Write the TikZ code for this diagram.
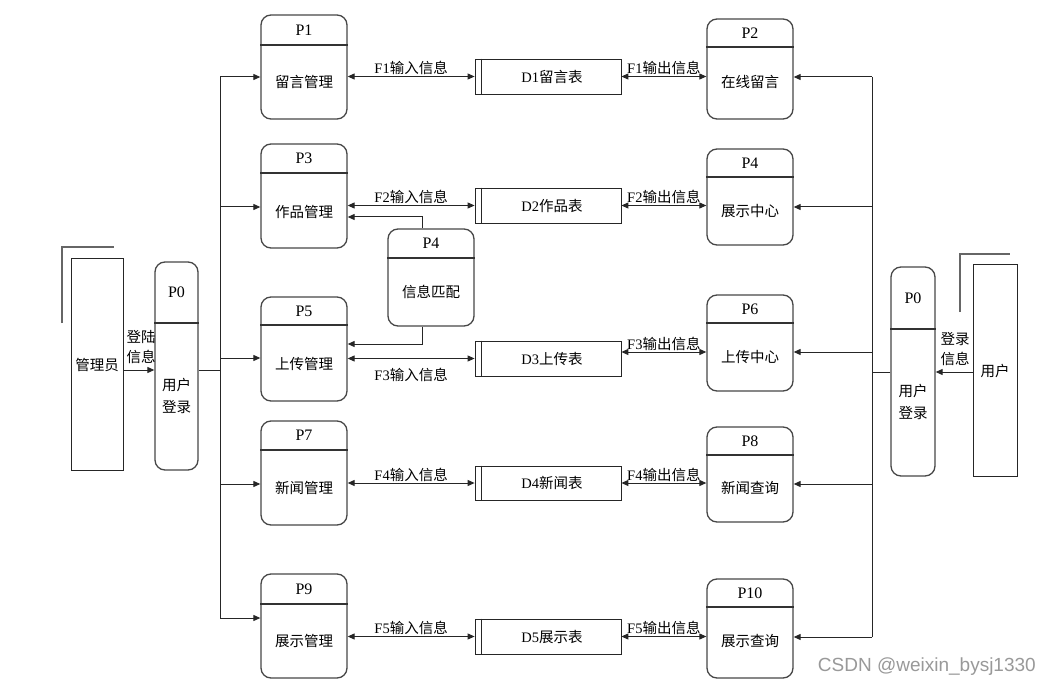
\documentclass[tikz,border=0pt]{standalone}
\usepackage{fontspec}
\setmainfont{Liberation Serif}
\newfontfamily\cjk{Noto Sans CJK SC}
\newfontfamily\wmfont{Liberation Sans}
\usetikzlibrary{arrows.meta,fit}
\newcommand\cj[1]{{\cjk #1}}
\tikzset{
  box/.style={draw=black!72, line width=1.3pt, rounded corners=10pt, inner sep=0pt},
  divider/.style={draw=black!80, line width=1.3pt},
  ent/.style={draw=black!85, line width=1pt, inner sep=0pt},
  corner/.style={draw=black!60, line width=1.4pt},
  store/.style={draw=black!85, line width=0.8pt, inner sep=0pt},
  conn/.style={draw=black!85, line width=1pt},
  arr/.style={conn, -{Triangle[length=7pt,width=6pt]}},
  darr/.style={conn, {Triangle[length=7pt,width=6pt]}-{Triangle[length=7pt,width=6pt]}},
  txt/.style={font=\fontsize{14.5}{22}\selectfont, inner sep=0pt, align=center},
  lbl/.style={font=\fontsize{14.5}{20}\selectfont, inner sep=0pt, align=center},
  ttl/.style={font=\fontsize{16}{17}\selectfont, inner sep=0pt},
}
% #1 name, #2 xl, #3 yt, #4 xr, #5 yb, #6 ydiv, #7 title, #8 body, #9 body y
\newcommand\proc[9]{%
  \node[box, fit={(#2,#3) (#4,#5)}] (#1) {};
  \draw[divider] (#1.west |- 0,#6) -- (#1.east |- 0,#6);
  \node[ttl] (#1t) at ({(#2+#4)/2},{(#3+#6)/2}) {#7};
  \node[txt] (#1b) at ({(#2+#4)/2},#9) {#8};
}
% #1 name, #2 yt, #3 yb, #4 text
\newcommand\dstore[4]{%
  \node[store, fit={(475,#2) (621,#3)}] (#1) {};
  \draw[store] ([xshift=7pt]#1.north west) -- ([xshift=7pt]#1.south west);
  \node[txt] (#1t) at ([xshift=4pt]#1.center) {#4};
}
\begin{document}
\begin{tikzpicture}[x=1pt,y=-1pt]
\useasboundingbox[fill=white] (0,0) rectangle (1050,687);

% entities
\draw[corner] (62,323) -- (62,247) -- (114,247);
\node[ent, fit={(71,259) (123,470)}] (adm) {};
\node[txt] (admt) at (adm.center) {\cj{管理员}};
\draw[corner] (960,312) -- (960,254) -- (1010,254);
\node[ent, fit={(973,265) (1017,476)}] (usr) {};
\node[txt] (usrt) at (usr.center) {\cj{用户}};

% login processes
\proc{p0l}{155}{262}{198}{470}{323}{P0}{\cj{用户}\\\cj{登录}}{396}
\proc{p0r}{891}{267}{935}{476}{329}{P0}{\cj{用户}\\\cj{登录}}{402}

% left processes
\proc{p1}{261}{15}{347}{119}{45}{P1}{\cj{留言管理}}{82}
\proc{p3}{261}{144}{347}{248}{173}{P3}{\cj{作品管理}}{212}
\proc{p5}{261}{297}{347}{401}{325}{P5}{\cj{上传管理}}{364}
\proc{p7}{261}{421}{347}{525}{450}{P7}{\cj{新闻管理}}{488}
\proc{p9}{261}{574}{347}{678}{604}{P9}{\cj{展示管理}}{641}

% middle process
\proc{p4m}{388}{229}{474}{326}{258}{P4}{\cj{信息匹配}}{292}

% right processes
\proc{p2}{707}{19}{793}{119}{47}{P2}{\cj{在线留言}}{82}
\proc{p4}{707}{149}{793}{245}{177}{P4}{\cj{展示中心}}{211}
\proc{p6}{707}{295}{793}{391}{323}{P6}{\cj{上传中心}}{357}
\proc{p8}{707}{427}{793}{522}{455}{P8}{\cj{新闻查询}}{488}
\proc{p10}{707}{579}{793}{678}{607}{P10}{\cj{展示查询}}{641}

% data stores
\dstore{d1}{59}{94}{D1\cj{留言表}}
\dstore{d2}{188}{223}{D2\cj{作品表}}
\dstore{d3}{341}{376}{D3\cj{上传表}}
\dstore{d4}{466}{500}{D4\cj{新闻表}}
\dstore{d5}{619}{654}{D5\cj{展示表}}

% bus coordinates
\coordinate (l1) at (220,77);
\coordinate (l2) at (220,207);
\coordinate (l3) at (220,358);
\coordinate (l4) at (220,484);
\coordinate (l5) at (220,618);
\coordinate (lj) at (220,370);
\coordinate (r1) at (872,77);
\coordinate (r2) at (872,207);
\coordinate (r3) at (872,352);
\coordinate (r4) at (872,484);
\coordinate (r5) at (872,637);
\coordinate (rj) at (872,372);
\coordinate (m1) at (422,217);
\coordinate (m2) at (422,344);

% login arrows
\draw[arr] (adm.east |- 0,370) -- (p0l.west |- 0,370);
\node[lbl] (lgl) at (141,347) {\cj{登陆}\\\cj{信息}};
\draw[arr] (usr.west |- 0,372) -- (p0r.east |- 0,372);
\node[lbl] (lgr) at (955,349) {\cj{登录}\\\cj{信息}};

% left bus
\draw[conn] (p0l.east |- lj) -- (lj);
\draw[conn] (l1) -- (l5);
\draw[arr] (l1) -- (p1.west |- l1);
\draw[arr] (l2) -- (p3.west |- l2);
\draw[arr] (l3) -- (p5.west |- l3);
\draw[arr] (l4) -- (p7.west |- l4);
\draw[arr] (l5) -- (p9.west |- l5);

% right bus
\draw[conn] (p0r.west |- rj) -- (rj);
\draw[conn] (r1) -- (r5);
\draw[arr] (r1) -- (p2.east |- r1);
\draw[arr] (r2) -- (p4.east |- r2);
\draw[arr] (r3) -- (p6.east |- r3);
\draw[arr] (r4) -- (p8.east |- r4);
\draw[arr] (r5) -- (p10.east |- r5);

% P4 matching
\draw[arr] (p4m.north -| m1) |- (p3.east |- m1);
\draw[arr] (p4m.south -| m2) |- (p5.east |- m2);

% data flows left
\draw[darr] (p1.east |- d1.west) -- node[lbl, above=1pt] {F1\cj{输入信息}} (d1.west);
\draw[darr] (p3.east |- d2.west) -- node[lbl, above=1pt] {F2\cj{输入信息}} (d2.west);
\draw[darr] (p5.east |- d3.west) -- node[lbl, below=9pt] {F3\cj{输入信息}} (d3.west);
\draw[darr] (p7.east |- d4.west) -- node[lbl, above=1pt] {F4\cj{输入信息}} (d4.west);
\draw[darr] (p9.east |- d5.west) -- node[lbl, above=1pt] {F5\cj{输入信息}} (d5.west);

% data flows right
\draw[darr] (d1.east) -- node[lbl, above=1pt] {F1\cj{输出信息}} (p2.west |- d1.east);
\draw[darr] (d2.east) -- node[lbl, above=1pt] {F2\cj{输出信息}} (p4.west |- d2.east);
\draw[darr] (d3.east |- r3) -- node[lbl, above=1pt] {F3\cj{输出信息}} (p6.west |- r3);
\draw[darr] (d4.east) -- node[lbl, above=1pt] {F4\cj{输出信息}} (p8.west |- d4.east);
\draw[darr] (d5.east) -- node[lbl, above=1pt] {F5\cj{输出信息}} (p10.west |- d5.east);

% watermark
\node[font=\wmfont\fontsize{19}{21}\selectfont, text=black!40, anchor=east, inner sep=0pt] (wm) at (1036,667) {CSDN @weixin\_bysj1330};
\end{tikzpicture}
\end{document}
